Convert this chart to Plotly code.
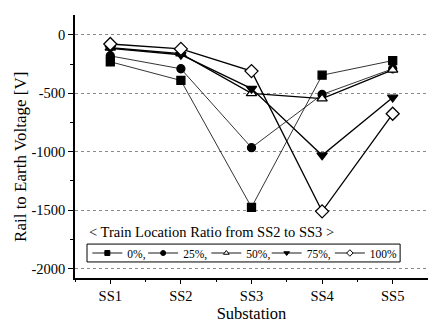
import plotly.graph_objects as go

substations = ["SS1", "SS2", "SS3", "SS4", "SS5"]
x_pos = [1, 2, 3, 4, 5]
series_names = ["0%,", "25%,", "50%,", "75%,", "100%"]
v_0 = [-230, -390, -1475, -345, -220]
v_25 = [-180, -290, -965, -510, -290]
v_50 = [-110, -160, -500, -545, -300]
v_75 = [-115, -170, -460, -1030, -535]
v_100 = [-78, -120, -310, -1510, -675]
y_ticks = [0, -500, -1000, -1500, -2000]
y_tick_labels = ["0", "-500", "-1000", "-1500", "-2000"]

series = [v_0, v_25, v_50, v_75, v_100]
symbols = ["square", "circle", "triangle-up", "triangle-down", "diamond"]
fills = ["black", "black", "white", "black", "white"]
widths = [0.8, 0.8, 1.3, 1.3, 1.3]
sizes = [8, 8, 9, 9, 10]
legend_ids = ["legend", "legend2", "legend3", "legend4", "legend5"]
legend_x = [0.035, 0.193, 0.372, 0.543, 0.722]

font = "Liberation Serif, Times New Roman, Times, serif"
fig = go.Figure()
for name, vals, sym, fill, w, s in zip(series_names, series, symbols, fills, widths, sizes):
    fig.add_trace(go.Scatter(
        x=x_pos, y=vals, name=name, mode="lines+markers", showlegend=False,
        line=dict(color="black", width=w),
        marker=dict(symbol=sym, size=s, color=fill, line=dict(color="black", width=1.3)),
    ))
# legend-only entries with small markers, one legend each for tight spacing
legend_layout = {}
for name, sym, fill, w, lid, lx in zip(series_names, symbols, fills, widths, legend_ids, legend_x):
    fig.add_trace(go.Scatter(
        x=[None], y=[None], name=name, mode="lines+markers", legend=lid,
        line=dict(color="black", width=0.9),
        marker=dict(symbol=sym, size=5, color=fill, line=dict(color="black", width=1)),
    ))
    legend_layout[lid] = dict(
        x=lx, y=0.095, xanchor="left", yanchor="middle", orientation="h",
        bgcolor="rgba(0,0,0,0)", borderwidth=0, itemwidth=30,
        font=dict(family=font, size=11.5),
    )

fig.update_layout(
    width=428, height=326,
    margin=dict(l=75, r=0, t=15, b=48),
    plot_bgcolor="white", paper_bgcolor="white",
    font=dict(family=font, color="black", size=14),
    showlegend=True,
    **legend_layout,
    xaxis=dict(
        range=[0.5, 5.5], tickvals=x_pos, ticktext=substations,
        showline=True, linecolor="black", linewidth=2,
        ticks="outside", ticklen=4, tickwidth=1, tickcolor="black",
        minor=dict(tick0=0.5, dtick=1, ticks="outside", ticklen=2, tickcolor="black"),
        showgrid=False, zeroline=False, automargin=False,
        title=dict(text="Substation", font=dict(size=16.5, family=font), standoff=3),
        tickfont=dict(size=14.5, family=font),
    ),
    yaxis=dict(
        range=[-2080, 170], tickvals=y_ticks, ticktext=y_tick_labels,
        showline=True, linecolor="black", linewidth=1.5,
        ticks="outside", ticklen=5, tickwidth=1, tickcolor="black",
        minor=dict(tick0=-250, dtick=500, ticks="outside", ticklen=3, tickcolor="black"),
        showgrid=True, gridcolor="#8a8a8a", griddash="dot", gridwidth=1,
        zeroline=False, automargin=False,
        tickfont=dict(size=14.5, family=font),
    ),
    shapes=[dict(
        type="rect", xref="paper", yref="paper",
        x0=0.034, x1=0.921, y0=0.061, y1=0.129,
        line=dict(color="black", width=1), fillcolor="white", layer="below",
    )],
    annotations=[
        dict(
            text="&lt; Train Location Ratio from SS2 to SS3 &gt;", xref="paper", yref="paper",
            x=0.034, y=0.175, xanchor="left", yanchor="middle", showarrow=False,
            font=dict(size=14.5, family=font),
        ),
        dict(
            text="Rail to Earth Voltage [V]", xref="paper", yref="paper",
            x=-0.156, y=0.46, xanchor="center", yanchor="middle", showarrow=False,
            textangle=-90, font=dict(size=17, family=font),
        ),
    ],
)

fig.write_html(
    "out.html",
    config={"displayModeBar": False},
    post_script="document.body.style.margin='0';document.body.style.overflow='hidden';",
)
